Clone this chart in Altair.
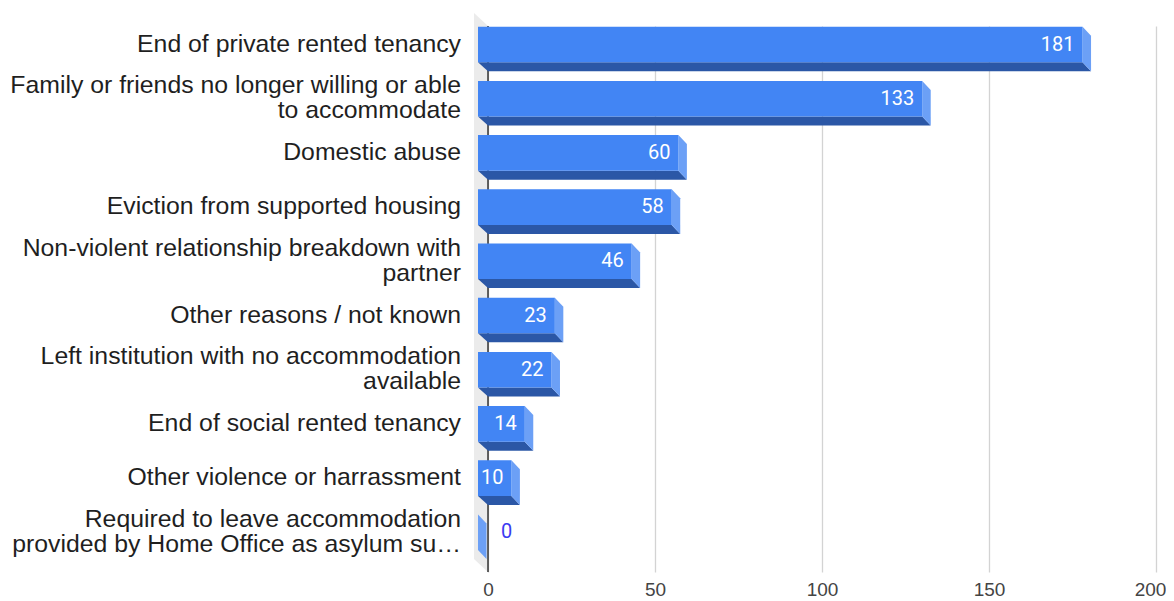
import altair as alt
import pandas as pd

# ---------------- data ----------------
categories = [
    "End of private rented tenancy",
    "Family or friends no longer willing or able\nto accommodate",
    "Domestic abuse",
    "Eviction from supported housing",
    "Non-violent relationship breakdown with\npartner",
    "Other reasons / not known",
    "Left institution with no accommodation\navailable",
    "End of social rented tenancy",
    "Other violence or harrassment",
    "Required to leave accommodation\nprovided by Home Office as asylum su\u2026",
]
values = [181, 133, 60, 58, 46, 23, 22, 14, 10, 0]
tick_values = [0, 50, 100, 150, 200]

# ---------------- geometry / style (pixels -> data units) ----------------
W, H = 668, 546
ROW = 54.2
X_MAX = 200
PXX = X_MAX / W
PXY = 1 / ROW
Y_MAX = H / ROW
FT, FH, DEPTH_Y = 0.7 * PXY, 35.6 * PXY, 9 * PXY
DXL, DXR = 10 * PXX, 8.5 * PXX
WALL_DX, WALL_DY = 14 * PXX, 13 * PXY
LINE_H = 25

FRONT = "#4285f4"
BOTTOM = "#2b57a6"
SIDE = "#6ca0f6"
WALL = "#ebebeb"

rows = pd.DataFrame({"cat": categories, "v": values, "i": list(range(len(values)))})
rows["label"] = rows["v"].astype(str)
rows["yc"] = rows["i"] + FT + FH / 2
rows["nlines"] = rows["cat"].str.count("\n") + 1

pos = rows[rows["v"] > 0].copy()
front = pos.assign(x1=-DXL, x2=pos["v"] - DXL, y1=pos["i"] + FT, y2=pos["i"] + FT + FH)

bottom_recs = []
for _, r in pos.iterrows():
    bottom_recs.append({"i": r["i"], "y": r["i"] + FT + FH, "xl": -DXL, "xr": r["v"] - DXL})
    bottom_recs.append({"i": r["i"], "y": r["i"] + FT + FH + DEPTH_Y, "xl": 0.0, "xr": r["v"] - DXL + DXR})
bottom = pd.DataFrame(bottom_recs)

side_recs = []
for _, r in rows.iterrows():
    side_recs.append({"i": r["i"], "x": r["v"] - DXL, "yt": r["i"] + FT, "yb": r["i"] + FT + FH})
    side_recs.append({"i": r["i"], "x": r["v"] - DXL + DXR, "yt": r["i"] + FT + DEPTH_Y,
                      "yb": r["i"] + FT + FH + DEPTH_Y})
side = pd.DataFrame(side_recs)

wall = pd.DataFrame({
    "x": [-WALL_DX, 0.0],
    "yt": [-WALL_DY, 0.0],
    "yb": [Y_MAX - WALL_DY, Y_MAX],
})

inside = pos.assign(lx=pos["v"] - DXL - 8 * PXX)
outside = rows[rows["v"] == 0].assign(lx=13 * PXX)
cats = rows.assign(lx=-27 * PXX, ly=rows["yc"] - (rows["nlines"] - 1) * (LINE_H / 2) * PXY)

xs = alt.Scale(domain=[0, X_MAX], nice=False, zero=False)
ys = alt.Scale(domain=[0, Y_MAX], nice=False, zero=False, reverse=True)
xaxis = alt.Axis(grid=True, labels=True, ticks=False, domain=False, values=tick_values,
                 title=None, gridColor="#d3d3d3", gridWidth=1.3,
                 labelFont="Liberation Sans", labelFontSize=19, labelColor="#444444",
                 labelPadding=8, labelFlush=False,
                 labelOffset={"condition": {"test": f"datum.value == {X_MAX}", "value": -6}, "value": 0})

wall_l = alt.Chart(wall).mark_area(orient="vertical", color=WALL).encode(
    x=alt.X("x:Q", scale=xs, axis=xaxis),
    y=alt.Y("yt:Q", scale=ys, axis=None),
    y2="yb:Q",
)

zero_l = alt.Chart(pd.DataFrame({"x": [0], "y1": [0.0], "y2": [Y_MAX]})).mark_rule(
    color="#333333", strokeWidth=1.5
).encode(
    x=alt.X("x:Q", scale=xs, axis=xaxis),
    y=alt.Y("y1:Q", scale=ys, axis=None),
    y2="y2:Q",
)

bottom_l = alt.Chart(bottom).mark_area(orient="horizontal", color=BOTTOM).encode(
    y=alt.Y("y:Q", scale=ys, axis=None),
    x=alt.X("xl:Q", scale=xs, axis=xaxis),
    x2="xr:Q",
    detail="i:N",
)

side_l = alt.Chart(side).mark_area(orient="vertical", color=SIDE).encode(
    x=alt.X("x:Q", scale=xs, axis=xaxis),
    y=alt.Y("yt:Q", scale=ys, axis=None),
    y2="yb:Q",
    detail="i:N",
)

front_l = alt.Chart(front).mark_rect(color=FRONT).encode(
    x=alt.X("x1:Q", scale=xs, axis=xaxis),
    x2="x2:Q",
    y=alt.Y("y1:Q", scale=ys, axis=None),
    y2="y2:Q",
)

val_in = alt.Chart(inside).mark_text(
    align="right", baseline="middle", font="Roboto", fontSize=20, color="white"
).encode(
    x=alt.X("lx:Q", scale=xs, axis=xaxis),
    y=alt.Y("yc:Q", scale=ys, axis=None),
    text="label:N",
)

val_out = alt.Chart(outside).mark_text(
    align="left", baseline="middle", font="Roboto", fontSize=20, color="#3b3bf2"
).encode(
    x=alt.X("lx:Q", scale=xs, axis=xaxis),
    y=alt.Y("yc:Q", scale=ys, axis=None),
    text="label:N",
)

cat_l = alt.Chart(cats).mark_text(
    align="right", baseline="middle", font="Liberation Sans", fontSize=24.8, lineHeight=LINE_H,
    lineBreak="\n", color="#1f1f1f"
).encode(
    x=alt.X("lx:Q", scale=xs, axis=xaxis),
    y=alt.Y("ly:Q", scale=ys, axis=None),
    text="cat:N",
)

chart = alt.layer(wall_l, zero_l, bottom_l, side_l, front_l, val_in, val_out, cat_l).properties(
    width=W, height=H,
    padding={"left": 480, "top": 18, "right": 10, "bottom": 29},
    autosize=alt.AutoSizeParams(type="none"),
).configure_view(stroke=None)

chart.save("out.html", embed_options={"renderer": "svg", "actions": False})
